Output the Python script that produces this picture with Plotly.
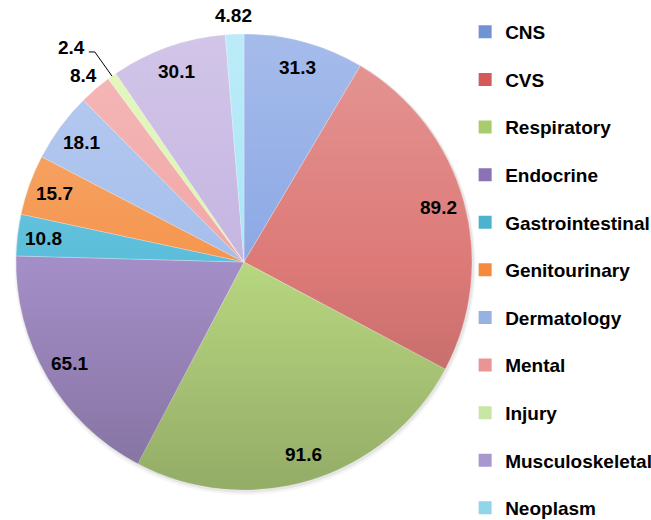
import base64
import math
import plotly.graph_objects as go

categories = ["CNS", "CVS", "Respiratory", "Endocrine", "Gastrointestinal",
              "Genitourinary", "Dermatology", "Mental", "Injury",
              "Musculoskeletal", "Neoplasm"]
values = [31.3, 89.2, 91.6, 65.1, 10.8, 15.7, 18.1, 8.4, 2.4, 30.1, 4.82]
labels = ["31.3", "89.2", "91.6", "65.1", "10.8", "15.7", "18.1", "8.4", "2.4", "30.1", "4.82"]
colors = ["#8CA9E5", "#DD7A78", "#B8D780", "#A48EC7", "#5BBEDA",
          "#F5964F", "#A5BEEC", "#F2A6A6", "#DCF5B0", "#C5B5E2", "#A9E6F6"]
legend_colors = ["#6F93D3", "#D45A5A", "#A9CB6E", "#8A72B4", "#4CB2CD",
                 "#F58A3E", "#96B2E2", "#E99595", "#C9E6A4", "#A898CE", "#8ED6E8"]
# where each value label sits: inside the slice, just outside it, or out with a leader line
label_mode = ["in", "in", "in", "in", "in", "in", "in", "out", "leader", "in", "out"]

W, H = 651, 520
CX, CY, R = 244, 262, 228          # pie centre and radius in pixels
font_family = "Arial, Liberation Sans, sans-serif"


def to_paper(px, py):
    return px / W, 1 - py / H


def polar(frac_r, angle_deg):
    a = math.radians(angle_deg)
    return CX + frac_r * R * math.sin(a), CY - frac_r * R * math.cos(a)


x0, y0 = to_paper(CX - R, CY + R)
x1, y1 = to_paper(CX + R, CY - R)

fig = go.Figure()

# soft drop shadow under the pie
for grow, off, alpha in [(2.5, 2.5, 0.04), (1.2, 1.5, 0.06)]:
    sx0, sy0 = to_paper(CX - R - grow + 1, CY + R + grow + off)
    sx1, sy1 = to_paper(CX + R + grow + 1, CY - R - grow + off)
    fig.add_shape(type="circle", xref="paper", yref="paper",
                  x0=sx0, y0=sy0, x1=sx1, y1=sy1,
                  fillcolor=f"rgba(0,0,0,{alpha})", line=dict(width=0), layer="below")

fig.add_trace(go.Pie(
    labels=categories,
    values=values,
    textinfo="none",
    sort=False,
    direction="clockwise",
    rotation=0,
    marker=dict(colors=colors, line=dict(color="rgba(255,255,255,0.5)", width=0.5)),
    domain=dict(x=[x0, x1], y=[y0, y1]),
    showlegend=False,
    hoverinfo="label+value",
))

# light-to-dark vertical sheen laid over the pie disc
d = 2 * R
sheen_svg = (
    f'<svg xmlns="http://www.w3.org/2000/svg" width="{d}" height="{d}" viewBox="0 0 {d} {d}">'
    '<defs><linearGradient id="g" x1="0" y1="0" x2="0" y2="1">'
    '<stop offset="0" stop-color="#ffffff" stop-opacity="0.22"/>'
    '<stop offset="0.5" stop-color="#ffffff" stop-opacity="0"/>'
    '<stop offset="0.5" stop-color="#000000" stop-opacity="0"/>'
    '<stop offset="1" stop-color="#000000" stop-opacity="0.2"/>'
    '</linearGradient></defs>'
    f'<circle cx="{R}" cy="{R}" r="{R}" fill="url(#g)"/></svg>'
)
sheen_uri = "data:image/svg+xml;base64," + base64.b64encode(sheen_svg.encode()).decode()
fig.add_layout_image(source=sheen_uri, xref="paper", yref="paper",
                     x=x0, y=y1, sizex=x1 - x0, sizey=y1 - y0,
                     xanchor="left", yanchor="top", sizing="stretch", layer="above")

# value labels placed along each slice's bisector
total = sum(values)
label_font = dict(family=font_family, size=19, color="black", weight="bold")
cum = 0.0
for val, txt, mode in zip(values, labels, label_mode):
    mid = (cum + val / 2) / total * 360
    cum += val
    if mode == "in":
        px, py = polar(0.885, mid)
        ax, ay = to_paper(px, py)
        fig.add_annotation(x=ax, y=ay, xref="paper", yref="paper", text=txt,
                           showarrow=False, font=label_font,
                           xanchor="center", yanchor="middle")
    elif mode == "out":
        px, py = polar(1.08, mid)
        ax, ay = to_paper(px, py)
        fig.add_annotation(x=ax, y=ay, xref="paper", yref="paper", text=txt,
                           showarrow=False, font=label_font,
                           xanchor="center", yanchor="middle")
    else:
        p1 = polar(1.0, mid)
        p2 = polar(1.13, mid)
        p3 = (p2[0] - 6, p2[1])
        pts = [to_paper(*p) for p in (p1, p2, p3)]
        path = "M {} {} L {} {} L {} {}".format(*[c for p in pts for c in p])
        fig.add_shape(type="path", xref="paper", yref="paper", path=path,
                      line=dict(color="black", width=1))
        tx, ty = to_paper(p3[0] - 2, p3[1] - 4)
        fig.add_annotation(x=tx, y=ty, xref="paper", yref="paper", text=txt,
                           showarrow=False, font=label_font,
                           xanchor="right", yanchor="middle")

# legend entries as separate groups so the rows can be spaced out
for name, col in zip(categories, legend_colors):
    fig.add_trace(go.Scatter(
        x=[None], y=[None], mode="markers", name=name,
        legendgroup=name,
        marker=dict(symbol="square", size=13, color=col),
        hoverinfo="skip",
    ))

fig.update_layout(
    width=W, height=H,
    margin=dict(l=0, r=0, t=0, b=0, autoexpand=False),
    paper_bgcolor="white", plot_bgcolor="white",
    xaxis=dict(visible=False), yaxis=dict(visible=False),
    legend=dict(
        x=0.7145, y=0.975, xanchor="left", yanchor="top",
        traceorder="grouped", tracegroupgap=19.9,
        font=dict(family=font_family, size=19, color="black", weight="bold"),
        itemwidth=30, bgcolor="rgba(0,0,0,0)",
    ),
)

fig.write_html("out.html")
